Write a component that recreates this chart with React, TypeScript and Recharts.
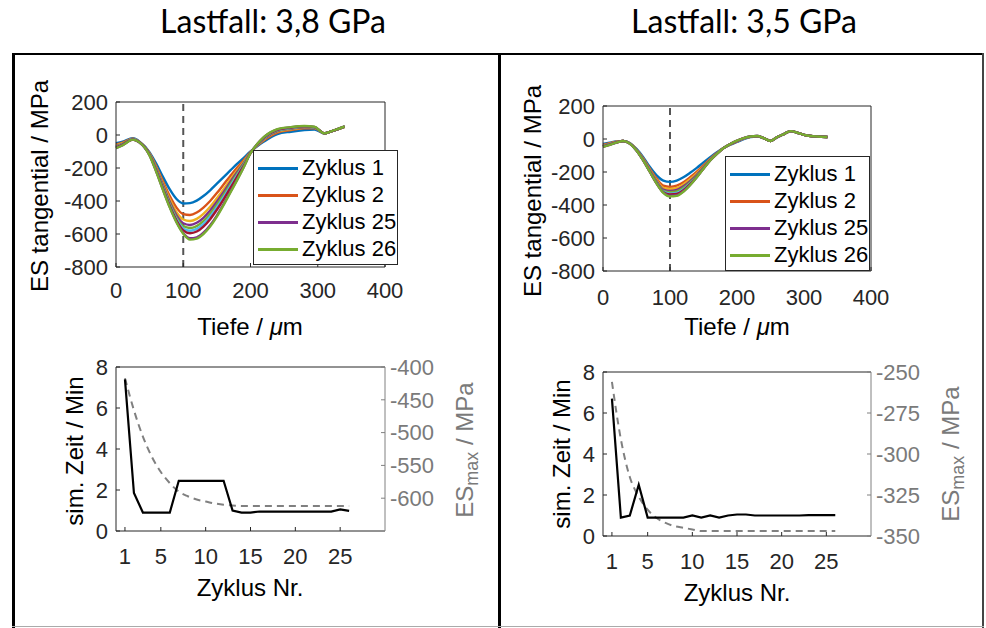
import { LineChart, Line, XAxis, YAxis, ReferenceLine } from "recharts";

// Tiefe in µm (Lastfall 3,8 GPa)
const depthL = [0, 10, 25, 35, 50, 60, 70, 80, 90, 100, 110, 120, 130, 140, 150, 160, 170, 180, 190, 200, 210, 220, 240, 260, 280, 295, 310, 320, 340];
const zykL1 = [-50, -40, -20, -40, -105, -175, -255, -330, -388, -415, -413, -398, -370, -335, -295, -255, -215, -175, -138, -100, -68, -40, 5, 20, 30, 33, 10, 22, 50];
const zykL2 = [-58, -46, -22, -42, -112, -192, -282, -370, -440, -480, -485, -470, -440, -400, -352, -300, -248, -198, -152, -104, -65, -32, 15, 30, 40, 40, 10, 22, 50];
const zykL3 = [-63, -50, -24, -43, -115, -200, -295, -390, -468, -512, -521, -508, -478, -435, -383, -328, -270, -215, -162, -106, -62, -27, 20, 34, 44, 43, 10, 22, 50];
const zykL4 = [-67, -53, -25, -43, -117, -206, -305, -405, -487, -535, -545, -532, -502, -458, -405, -346, -285, -226, -169, -107, -60, -23, 24, 38, 47, 45, 10, 22, 51];
const zykL5 = [-70, -55, -26, -44, -119, -211, -313, -415, -500, -552, -564, -552, -522, -477, -422, -362, -298, -236, -175, -108, -59, -20, 27, 40, 49, 46, 10, 22, 51];
const zykL6 = [-73, -57, -26, -44, -120, -215, -320, -424, -510, -566, -580, -569, -539, -494, -438, -376, -310, -245, -181, -108, -58, -18, 29, 42, 51, 47, 10, 22, 51];
const zykL7 = [-75, -58, -27, -44, -121, -218, -325, -430, -518, -578, -595, -585, -555, -510, -453, -390, -322, -254, -186, -109, -57, -16, 31, 44, 52, 48, 10, 22, 51];
const zykL25 = [-79, -61, -28, -45, -124, -223, -333, -437, -527, -594, -626, -620, -592, -547, -488, -419, -345, -271, -193, -110, -55, -13, 34, 47, 54, 49, 10, 22, 52];
const zykL26 = [-80, -62, -28, -45, -125, -225, -335, -440, -530, -598, -634, -628, -600, -555, -495, -425, -350, -275, -195, -110, -55, -12, 35, 48, 55, 50, 10, 22, 52];

// Tiefe in µm (Lastfall 3,5 GPa)
const depthR = [0, 10, 20, 30, 40, 50, 60, 70, 80, 90, 100, 110, 120, 130, 140, 150, 160, 170, 180, 190, 200, 210, 220, 230, 240, 250, 260, 270, 280, 290, 300, 310, 320, 335];
const zykR1 = [-30, -22, -15, -12, -25, -60, -110, -170, -220, -252, -260, -252, -232, -205, -175, -142, -110, -80, -55, -35, -18, 0, 12, 15, 5, -12, 10, 30, 48, 38, 25, 18, 15, 12];
const zykR2 = [-36, -26, -17, -12, -26, -64, -118, -182, -240, -283, -290, -283, -262, -232, -198, -160, -120, -85, -55, -33, -15, 2, 13, 16, 5, -12, 11, 30, 48, 38, 25, 18, 15, 12];
const zykR3 = [-39, -28, -18, -12, -26, -65, -121, -187, -249, -296, -303, -297, -275, -244, -208, -167, -124, -87, -55, -32, -14, 3, 14, 17, 5, -12, 11, 30, 48, 38, 25, 18, 15, 12];
const zykR4 = [-42, -30, -19, -12, -27, -67, -124, -192, -256, -307, -315, -309, -287, -255, -217, -172, -127, -88, -55, -31, -13, 3, 14, 17, 5, -12, 11, 30, 48, 38, 25, 18, 15, 12];
const zykR5 = [-44, -32, -20, -12, -27, -68, -126, -195, -261, -314, -323, -318, -296, -263, -223, -175, -128, -89, -55, -31, -12, 4, 14, 17, 5, -12, 12, 30, 48, 38, 25, 18, 15, 12];
const zykR6 = [-45, -33, -21, -12, -27, -69, -128, -197, -265, -319, -331, -327, -304, -269, -227, -177, -129, -89, -55, -30, -11, 4, 15, 18, 5, -12, 12, 30, 48, 38, 25, 18, 15, 12];
const zykR7 = [-46, -34, -21, -12, -28, -69, -129, -198, -267, -322, -336, -333, -310, -273, -229, -178, -129, -90, -55, -30, -11, 5, 15, 18, 5, -12, 12, 30, 48, 38, 25, 18, 15, 12];
const zykR25 = [-47, -35, -22, -12, -28, -70, -130, -200, -269, -324, -344, -341, -317, -278, -231, -179, -130, -90, -55, -30, -10, 5, 15, 18, 5, -12, 12, 30, 48, 38, 25, 18, 15, 12];
const zykR26 = [-48, -35, -22, -12, -28, -70, -130, -200, -270, -326, -348, -345, -320, -280, -232, -180, -130, -90, -55, -30, -10, 5, 15, 18, 5, -12, 12, 30, 48, 38, 25, 18, 15, 12];

// Zyklen 1..26
const cycles = [1, 2, 3, 4, 5, 6, 7, 8, 9, 10, 11, 12, 13, 14, 15, 16, 17, 18, 19, 20, 21, 22, 23, 24, 25, 26];
const simTimeL = [7.4, 1.85, 0.9, 0.9, 0.9, 0.9, 2.45, 2.45, 2.45, 2.45, 2.45, 2.45, 1.0, 0.9, 0.9, 0.95, 0.95, 0.95, 0.95, 0.95, 0.95, 0.95, 0.95, 0.95, 1.05, 0.98];
const esMaxL = [-417, -466, -506, -537, -560, -577, -590, -597, -602, -605, -608, -610, -611, -612, -612, -612, -612, -612, -612, -612, -612, -612, -612, -612, -612, -612];
const simTimeR = [6.7, 0.9, 1.0, 2.5, 0.9, 0.9, 0.9, 0.9, 0.9, 1.0, 0.9, 1.0, 0.9, 1.0, 1.05, 1.05, 1.0, 1.0, 1.0, 1.0, 1.0, 1.0, 1.02, 1.02, 1.02, 1.02];
const esMaxR = [-256, -291, -314, -326, -334, -339, -342, -344, -345, -346, -347, -347, -347, -347, -347, -347, -347, -347, -347, -347, -347, -347, -347, -347, -347, -347];

const shownCycles = [1, 2, 3, 4, 5, 6, 7, 25, 26];
const legendCycles = [1, 2, 25, 26];
const depthTicks = [0, 100, 200, 300, 400];
const esTicks = [-800, -600, -400, -200, 0, 200];
const cycleTicks = [1, 5, 10, 15, 20, 25];
const timeTicks = [0, 2, 4, 6, 8];
const esMaxTicksL = [-600, -550, -500, -450, -400];
const esMaxTicksR = [-350, -325, -300, -275, -250];

const MATLAB = ["#0072BD", "#D95319", "#EDB120", "#7E2F8E", "#77AC30", "#4DBEEE", "#A2142F"];
const colorOf = (c: number) => MATLAB[(c - 1) % MATLAB.length];

const FONT = "'Liberation Sans', Arial, sans-serif";
const DARK = "#262626";
const GREY = "#808080";

const rowsL = depthL.map((d, i) => ({
  depth: d,
  z1: zykL1[i], z2: zykL2[i], z3: zykL3[i], z4: zykL4[i], z5: zykL5[i],
  z6: zykL6[i], z7: zykL7[i], z25: zykL25[i], z26: zykL26[i],
}));
const rowsR = depthR.map((d, i) => ({
  depth: d,
  z1: zykR1[i], z2: zykR2[i], z3: zykR3[i], z4: zykR4[i], z5: zykR5[i],
  z6: zykR6[i], z7: zykR7[i], z25: zykR25[i], z26: zykR26[i],
}));
const cycRowsL = cycles.map((c, i) => ({ cycle: c, t: simTimeL[i], es: esMaxL[i] }));
const cycRowsR = cycles.map((c, i) => ({ cycle: c, t: simTimeR[i], es: esMaxR[i] }));

const tickStyle = { fontSize: 22, fill: DARK, fontFamily: FONT };

function ProfileChart({ x, y, w, h, rows, xMargin }: any) {
  return (
    <div style={{ position: "absolute", left: x - 70, top: y - 20 }}>
      <LineChart width={70 + w + 30} height={20 + h + 40} data={rows}
        margin={{ top: 20, right: 30, left: 0, bottom: 0 }}>
        <XAxis dataKey="depth" type="number" domain={[0, 400]} ticks={depthTicks} interval={0}
          height={40} tickSize={-4} tickMargin={xMargin} stroke={DARK} tick={tickStyle} />
        <YAxis type="number" domain={[-800, 200]} ticks={esTicks} interval={0} width={70}
          tickSize={-4} tickMargin={12} stroke={DARK} tick={tickStyle} />
        <ReferenceLine y={200} stroke={DARK} />
        <ReferenceLine x={400} stroke={DARK} />
        <ReferenceLine x={100} stroke="#555" strokeWidth={2} strokeDasharray="7 5" />
        {shownCycles.map((c) => (
          <Line key={c} dataKey={`z${c}`} type="monotone" stroke={colorOf(c)} strokeWidth={2.4}
            dot={false} isAnimationActive={false} />
        ))}
      </LineChart>
    </div>
  );
}

function CycleChart({ x, y, w, h, rows, esDomain, esTicks }: any) {
  return (
    <div style={{ position: "absolute", left: x - 70, top: y - 20 }}>
      <LineChart width={70 + w + 70} height={20 + h + 40} data={rows}
        margin={{ top: 20, right: 0, left: 0, bottom: 0 }}>
        <XAxis dataKey="cycle" type="number" domain={[0, 30]} ticks={cycleTicks} interval={0}
          height={40} tickSize={-4} tickMargin={21} stroke={DARK} tick={tickStyle} />
        <YAxis yAxisId="left" type="number" domain={[0, 8]} ticks={timeTicks} interval={0} width={70}
          tickSize={-4} tickMargin={12} stroke={DARK} tick={tickStyle} />
        <YAxis yAxisId="right" orientation="right" type="number" domain={esDomain} ticks={esTicks}
          interval={0} width={70} tickSize={-4} tickMargin={9} stroke={GREY}
          tick={{ ...tickStyle, fill: "#7a7a7a" }} />
        <ReferenceLine yAxisId="left" y={8} stroke={DARK} />
        <Line yAxisId="right" dataKey="es" type="monotone" stroke={GREY} strokeWidth={2}
          strokeDasharray="7 5" dot={false} isAnimationActive={false} />
        <Line yAxisId="left" dataKey="t" type="linear" stroke="#000" strokeWidth={2.2}
          dot={false} isAnimationActive={false} />
      </LineChart>
    </div>
  );
}

function LegendBox({ x, y }: { x: number; y: number }) {
  return (
    <div style={{
      position: "absolute", left: x, top: y, width: 145, height: 115, background: "#fff",
      border: `1px solid ${DARK}`, boxSizing: "border-box", fontFamily: FONT, fontSize: 22, color: "#000",
    }}>
      {legendCycles.map((c, i) => (
        <div key={c} style={{ position: "absolute", left: 4, top: 4 + i * 27, height: 26, display: "flex", alignItems: "center" }}>
          <div style={{ width: 40, height: 3, background: colorOf(c), marginRight: 4 }} />
          <span style={{ whiteSpace: "nowrap" }}>Zyklus {c}</span>
        </div>
      ))}
    </div>
  );
}

function Txt({ x, y, rotate, color, size, family, children }: any) {
  return (
    <div style={{
      position: "absolute", left: x, top: y, whiteSpace: "nowrap",
      transform: `translate(-50%, -50%)${rotate ? " rotate(-90deg)" : ""}`,
      fontFamily: family || FONT, fontSize: size || 24, color: color || "#000", lineHeight: 1,
    }}>
      {children}
    </div>
  );
}

export default function App() {
  return (
    <div style={{ position: "absolute", left: 0, top: 0, width: 986, height: 628, background: "#fff", overflow: "hidden" }}>
      <Txt x={273} y={21} size={32} family="Lato, 'Open Sans', sans-serif">Lastfall: 3,8 GPa</Txt>
      <Txt x={744} y={21} size={32} family="Lato, 'Open Sans', sans-serif">Lastfall: 3,5 GPa</Txt>

      {/* frames */}
      <div style={{ position: "absolute", left: 12, top: 53, width: 972, height: 2, background: "#000" }} />
      <div style={{ position: "absolute", left: 12, top: 53, width: 3, height: 575, background: "#000" }} />
      <div style={{ position: "absolute", left: 498, top: 53, width: 3, height: 575, background: "#000" }} />
      <div style={{ position: "absolute", left: 982, top: 53, width: 2, height: 575, background: "#444" }} />
      <div style={{ position: "absolute", left: 12, top: 626, width: 972, height: 1, background: "#aaa" }} />

      <ProfileChart x={116} y={102} w={269} h={165} rows={rowsL} xMargin={19} />
      <ProfileChart x={603} y={106} w={268} h={165} rows={rowsR} xMargin={22} />
      <CycleChart x={116} y={367} w={269} h={164} rows={cycRowsL} esDomain={[-650, -400]} esTicks={esMaxTicksL} />
      <CycleChart x={603} y={372} w={268} h={164} rows={cycRowsR} esDomain={[-350, -250]} esTicks={esMaxTicksR} />

      <LegendBox x={253} y={150} />
      <LegendBox x={725} y={156} />

      <Txt x={40} y={186} rotate>ES tangential / MPa</Txt>
      <Txt x={533} y={191} rotate>ES tangential / MPa</Txt>
      <Txt x={250} y={327}>Tiefe / <i>μ</i>m</Txt>
      <Txt x={737} y={327}>Tiefe / <i>μ</i>m</Txt>

      <Txt x={75} y={451} rotate>sim. Zeit / Min</Txt>
      <Txt x={562} y={454} rotate>sim. Zeit / Min</Txt>
      <Txt x={250} y={588}>Zyklus Nr.</Txt>
      <Txt x={737} y={593}>Zyklus Nr.</Txt>
      <Txt x={467} y={450} rotate color="#7a7a7a">ES<sub style={{ fontSize: 18 }}>max</sub> / MPa</Txt>
      <Txt x={953} y={454} rotate color="#7a7a7a">ES<sub style={{ fontSize: 18 }}>max</sub> / MPa</Txt>
    </div>
  );
}
